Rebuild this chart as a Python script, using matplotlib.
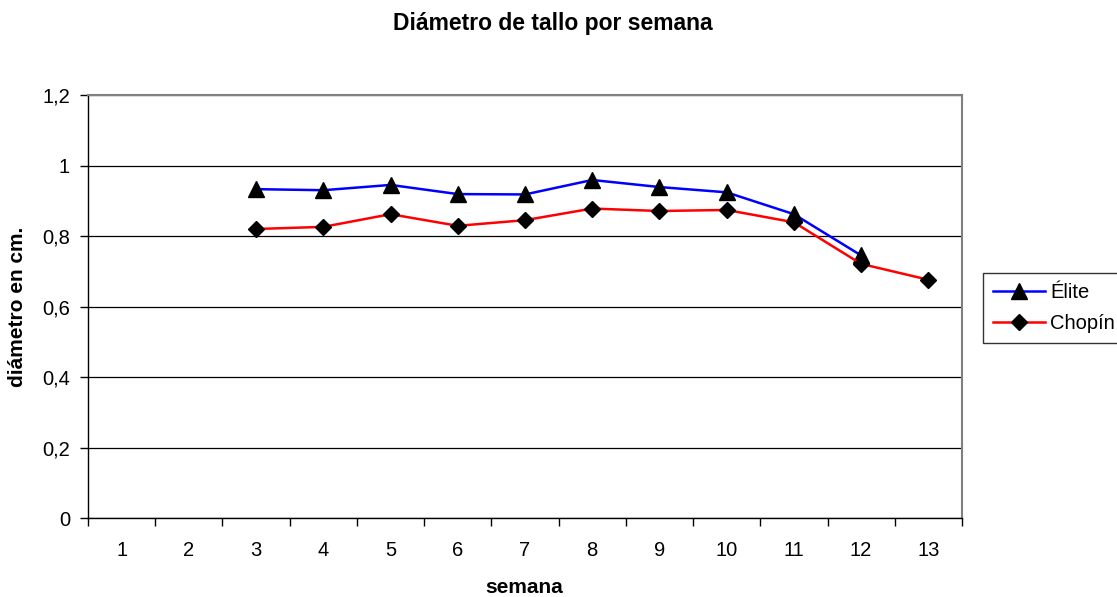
import numpy as np
from matplotlib import pyplot as plt
from matplotlib.ticker import FixedLocator

plt.rcParams['font.family'] = ['Liberation Sans', 'DejaVu Sans']

semanas = list(range(1, 14))
elite_semanas = [3, 4, 5, 6, 7, 8, 9, 10, 11, 12]
elite = [0.933, 0.930, 0.945, 0.919, 0.918, 0.959, 0.939, 0.924, 0.862, 0.745]
chopin_semanas = [3, 4, 5, 6, 7, 8, 9, 10, 11, 12, 13]
chopin = [0.820, 0.826, 0.862, 0.829, 0.845, 0.878, 0.871, 0.874, 0.839, 0.721, 0.676]
y_ticks = [0, 0.2, 0.4, 0.6, 0.8, 1.0, 1.2]
y_labels = ['0', '0,2', '0,4', '0,6', '0,8', '1', '1,2']


def main() -> None:
    fig = plt.figure(figsize=(11.17, 5.97), dpi=100)
    ax = fig.add_axes([0.0788, 0.1323, 0.7824, 0.7085])

    ax.plot(elite_semanas, elite, color='#0000ff', lw=1.8, marker='^',
            ms=11, mfc='black', mec='black', label='Élite', zorder=3)
    ax.plot(chopin_semanas, chopin, color='#ff0000', lw=1.8, marker='D',
            ms=8, mfc='black', mec='black', label='Chopín', zorder=3)

    ax.set_xlim(0.5, 13.5)
    ax.set_ylim(0, 1.2)

    # category axis: ticks on the boundaries, labels centred
    ax.xaxis.set_major_locator(FixedLocator(np.arange(0.5, 14, 1)))
    ax.xaxis.set_minor_locator(FixedLocator(semanas))
    ax.set_xticklabels([])
    ax.set_xticklabels([str(s) for s in semanas], minor=True)
    ax.tick_params(axis='x', which='major', length=6, width=1, direction='out')
    ax.tick_params(axis='x', which='minor', length=0, pad=16.5, labelsize=14.5)

    ax.set_yticks(y_ticks)
    ax.set_yticklabels(y_labels)
    ax.tick_params(axis='y', length=6, width=1, direction='out', pad=7,
                   labelsize=14.5)

    ax.grid(axis='y', color='black', lw=0.9)
    ax.set_axisbelow(True)
    for side in ['top', 'right']:
        ax.spines[side].set_color('#808080')
        ax.spines[side].set_linewidth(1.5)
    for side in ['left', 'bottom']:
        ax.spines[side].set_color('black')
        ax.spines[side].set_linewidth(1.0)

    fig.text(0.4696, 0.016, 'semana', ha='center', va='center',
             fontsize=15, fontweight='bold')
    fig.text(0.0161, 0.4866, 'diámetro en cm.', ha='center', va='center',
             rotation=90, fontsize=15, fontweight='bold')
    fig.text(0.4946, 0.961, 'Diámetro de tallo por semana', ha='center',
             va='center', fontsize=16.5, fontweight='bold')

    leg = fig.legend(loc='upper left', bbox_to_anchor=(0.880, 0.5427),
                     fontsize=14.5, frameon=True, fancybox=False,
                     borderaxespad=0, handlelength=2.6, handletextpad=0.25,
                     borderpad=0.5, labelspacing=0.6)
    leg.get_frame().set_edgecolor('black')
    leg.get_frame().set_linewidth(1.0)

    fig.savefig('out.png', dpi=100)


if __name__ == '__main__':
    main()
